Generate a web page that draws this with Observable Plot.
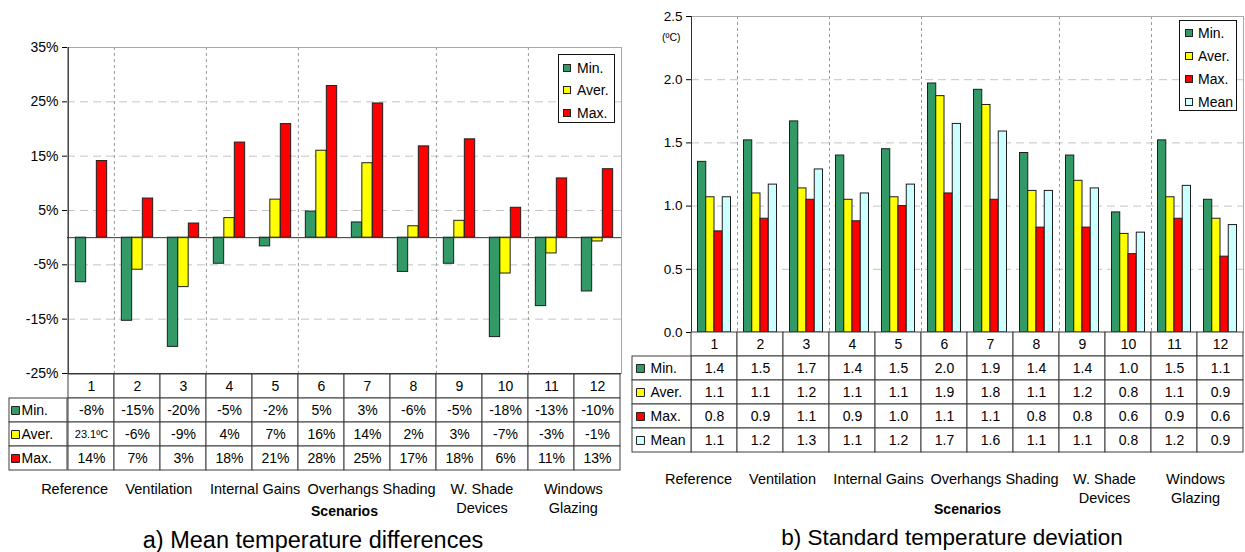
<!DOCTYPE html>
<html><head><meta charset="utf-8">
<script src="https://cdn.jsdelivr.net/npm/d3@7"></script>
<script src="https://cdn.jsdelivr.net/npm/@observablehq/plot@0.6"></script>
<style>
body{margin:0;background:#fff;font-family:"Liberation Sans",Arial,sans-serif;}
#root{position:relative;width:1245px;height:552px;overflow:hidden;background:#fff;}
.legend{position:absolute;border:1px solid #111;background:#fff;font-size:14px;color:#000;box-sizing:border-box;}
.legend .it{position:absolute;white-space:nowrap;line-height:16px;transform:translateY(-50%);}
.legend .sw{position:absolute;width:8px;height:8px;border:1px solid #222;box-sizing:border-box;transform:translateY(-50%);}
.title{position:absolute;color:#000;transform:translate(-50%,-50%);white-space:nowrap;}
</style></head><body><div id="root"></div>
<script>
// ---------- shared ----------
const categories = ["1","2","3","4","5","6","7","8","9","10","11","12"];
const groups = [
  {name:"Reference", first:1, last:1},
  {name:"Ventilation", first:2, last:3},
  {name:"Internal Gains", first:4, last:5},
  {name:"Overhangs Shading", first:6, last:8},
  {name:"W. Shade\nDevices", first:9, last:10},
  {name:"Windows\nGlazing", first:11, last:12}
];
const colors = {"Min.":"#339966","Aver.":"#ffff00","Max.":"#ff0000","Mean":"#ccffff"};

// ---------- panel a: mean temperature differences (%) ----------
const seriesA = ["Min.","Aver.","Max."];
const minA  = [-8.2,-15.3,-20.1,-4.8,-1.6,4.8,2.8,-6.3,-4.8,-18.3,-12.6,-9.9];
const averA = [null,-5.9,-9.1,3.6,7.0,16.0,13.7,2.1,3.1,-6.6,-2.9,-0.7];
const maxA  = [14.1,7.2,2.6,17.5,20.9,27.9,24.7,16.8,18.1,5.5,10.9,12.6];
const tableMinA  = ["-8%","-15%","-20%","-5%","-2%","5%","3%","-6%","-5%","-18%","-13%","-10%"];
const tableAverA = ["23.1ºC","-6%","-9%","4%","7%","16%","14%","2%","3%","-7%","-3%","-1%"];
const tableMaxA  = ["14%","7%","3%","18%","21%","28%","25%","17%","18%","6%","11%","13%"];
const yTicksA = [-25,-15,-5,5,15,25,35];
const gridA = [-15,-5,5,15,25];
const titleA = "a) Mean temperature differences";

// ---------- panel b: standard temperature deviation (ºC) ----------
const seriesB = ["Min.","Aver.","Max.","Mean"];
const minB  = [1.35,1.52,1.67,1.40,1.45,1.97,1.92,1.42,1.40,0.95,1.52,1.05];
const averB = [1.07,1.10,1.14,1.05,1.07,1.87,1.80,1.12,1.20,0.78,1.07,0.90];
const maxB  = [0.80,0.90,1.05,0.88,1.00,1.10,1.05,0.83,0.83,0.62,0.90,0.60];
const meanB = [1.07,1.17,1.29,1.10,1.17,1.65,1.59,1.12,1.14,0.79,1.16,0.85];
const tableMinB  = ["1.4","1.5","1.7","1.4","1.5","2.0","1.9","1.4","1.4","1.0","1.5","1.1"];
const tableAverB = ["1.1","1.1","1.2","1.1","1.1","1.9","1.8","1.1","1.2","0.8","1.1","0.9"];
const tableMaxB  = ["0.8","0.9","1.1","0.9","1.0","1.1","1.1","0.8","0.8","0.6","0.9","0.6"];
const tableMeanB = ["1.1","1.2","1.3","1.1","1.2","1.7","1.6","1.1","1.1","0.8","1.2","0.9"];
const yTicksB = [0,0.5,1,1.5,2,2.5];
const gridB = [0.5,1,1.5,2];
const titleB = "b) Standard temperature deviation";

// ---------- drawing ----------
const root = document.getElementById("root");
const baseStyle = "background:transparent;overflow:visible;font-family:'Liberation Sans',Arial,sans-serif;color:#000;";
function place(el, left, top) {
  el.style.position = "absolute"; el.style.left = left + "px"; el.style.top = top + "px";
  root.appendChild(el);
}
const groupStarts = groups.slice(1).map(g => String(g.first));
const labelNudge = [-16, -1, 3, 4, -1, -2];

function panel(c) {
  const n = categories.length;
  const bw = (c.width - c.mL - c.mR) / n;
  const pad = (bw - c.barW * c.series.length) / 2;
  const H = c.barBottom + 6;
  const barMarks = c.series.map((s, i) => Plot.barY(
    categories.map((cat, j) => ({cat, v: c.values[i][j]})).filter(d => d.v != null),
    {x: "cat", y: "v", fill: colors[s], stroke: "#1e1e1e", strokeWidth: 1,
     insetLeft: pad + i * c.barW, insetRight: bw - pad - (i + 1) * c.barW}));
  const bars = Plot.plot({
    width: c.width, height: H,
    marginLeft: c.mL, marginRight: c.mR, marginTop: c.barTop, marginBottom: H - c.barBottom,
    style: baseStyle + `font-size:${c.tickFont}px;`,
    x: {type: "band", domain: categories, padding: 0, axis: null},
    y: {domain: c.yDomain, ticks: c.yTicks, tickFormat: c.tickFmt, tickSize: 5, tickPadding: 4, label: null},
    marks: [
      Plot.ruleY(c.grid, {stroke: "#c4c4c4", strokeDasharray: "8,5"}),
      Plot.ruleX(groupStarts, {x: d => d, dx: -bw / 2, stroke: "#9a9a9a", strokeDasharray: "3,3"}),
      Plot.frame({stroke: "#a8a8a8"}),
      ...barMarks,
      Plot.ruleY([0], {stroke: "#333"}),
      Plot.ruleY([c.yDomain[0]], {stroke: "#333"}),
      Plot.ruleX([categories[0]], {x: d => d, dx: -bw / 2, stroke: "#333"}),
      ...(c.unit ? [Plot.text([c.unit], {text: d => d, frameAnchor: "top-left", dx: -11, dy: 17, textAnchor: "end", fontSize: 10.5})] : [])
    ]
  });
  place(bars, c.left, 0);

  // data table
  const rows = ["#", ...c.series];
  const cells = [];
  categories.forEach((cat, j) => {
    cells.push({cat, row: "#", t: cat});
    c.series.forEach((s, i) => cells.push({cat, row: s, t: c.tables[i][j]}));
  });
  const tH = c.tableBottom - c.tableTop;
  const table = Plot.plot({
    width: c.width, height: tH + 6, marginLeft: c.mL, marginRight: c.mR, marginTop: 3, marginBottom: 3,
    style: baseStyle,
    x: {type: "band", domain: categories, padding: 0, axis: null},
    y: {type: "band", domain: rows, padding: 0, axis: null},
    marks: [
      Plot.cell(cells, {x: "cat", y: "row", fill: "#fff", stroke: "#3c3c3c"}),
      Plot.text(cells, {x: "cat", y: "row", text: "t", fontSize: d => d.t.includes("ºC") ? 11 : 14, fill: "#000"})
    ]
  });
  place(table, c.left, c.tableTop - 3);

  // legend column of the table
  const legCol = Plot.plot({
    width: c.mL, height: tH + 6, marginLeft: c.legColLeft, marginRight: 0, marginTop: 3, marginBottom: 3,
    style: baseStyle,
    x: {type: "band", domain: ["lab"], padding: 0, axis: null},
    y: {type: "band", domain: rows, padding: 0, axis: null},
    color: {type: "identity"},
    marks: [
      Plot.cell(c.series, {x: () => "lab", y: d => d, fill: "#fff", stroke: "#3c3c3c"}),
      Plot.dot(c.series, {x: () => "lab", y: d => d, symbol: "square", r: 4.5, fill: d => colors[d], stroke: "#222", strokeWidth: 1, dx: c.swDx}),
      Plot.text(c.series, {x: () => "lab", y: d => d, text: d => d, textAnchor: "start", dx: c.txtDx, fontSize: 14, fill: "#000"})
    ]
  });
  place(legCol, c.left, c.tableTop - 3);

  // category group labels + axis title
  const labPlot = Plot.plot({
    width: c.width, height: 552 - c.labTop, marginLeft: c.mL, marginRight: c.mR, marginTop: 0, marginBottom: 0,
    style: baseStyle,
    x: {domain: [0.5, n + 0.5], axis: null},
    marks: [
      ...groups.map((g, k) => Plot.text([g], {x: d => (d.first + d.last) / 2, text: "name", frameAnchor: "top",
        lineAnchor: "top", dy: c.groupDy, dx: labelNudge[k], fontSize: 14.5, lineHeight: 1.31, fill: "#000"})),
      Plot.text(["Scenarios"], {text: d => d, frameAnchor: "top", dy: c.scenDy, fontWeight: "bold", fontSize: 14, fill: "#000"})
    ]
  });
  place(labPlot, c.left, c.labTop);

  // title
  const t = document.createElement("div");
  t.className = "title"; t.textContent = c.title;
  t.style.left = c.titleX + "px"; t.style.top = c.titleY + "px"; t.style.fontSize = c.titleFont + "px";
  root.appendChild(t);

  // legend box
  const lg = document.createElement("div");
  lg.className = "legend";
  Object.assign(lg.style, {left: c.lg.x + "px", top: c.lg.y + "px", width: c.lg.w + "px", height: c.lg.h + "px"});
  c.series.forEach((s, i) => {
    const cy = c.lg.first + i * c.lg.step;
    const sw = document.createElement("div");
    sw.className = "sw"; sw.style.left = c.lg.swX + "px"; sw.style.top = cy + "px"; sw.style.background = colors[s];
    const tx = document.createElement("div");
    tx.className = "it"; tx.style.left = c.lg.txX + "px"; tx.style.top = cy + "px"; tx.textContent = s;
    lg.appendChild(sw); lg.appendChild(tx);
  });
  root.appendChild(lg);
}

panel({
  left: 0, width: 630, mL: 67, mR: 9, barTop: 47, barBottom: 373,
  yDomain: [-25, 35], yTicks: yTicksA, tickFmt: d => d + "%", grid: gridA, tickFont: 14,
  series: seriesA, values: [minA, averA, maxA], tables: [tableMinA, tableAverA, tableMaxA], barW: 10.5,
  tableTop: 373, tableBottom: 470, legColLeft: 9, swDx: -23, txtDx: -17,
  labTop: 460, groupDy: 20, scenDy: 46,
  title: titleA, titleX: 313, titleY: 540, titleFont: 23.5,
  lg: {x: 558, y: 54, w: 57, h: 69, first: 12.5, step: 22.6, swX: 4, txX: 18}
});
panel({
  left: 620, width: 625, mL: 71, mR: 2, barTop: 16, barBottom: 332,
  yDomain: [0, 2.5], yTicks: yTicksB, tickFmt: d3.format(".1f"), grid: gridB, tickFont: 13.5, unit: "(ºC)",
  series: seriesB, values: [minB, averB, maxB, meanB], tables: [tableMinB, tableAverB, tableMaxB, tableMeanB], barW: 8.25,
  tableTop: 332, tableBottom: 452.3, legColLeft: 12, swDx: -21.5, txtDx: -11.5,
  labTop: 460, groupDy: 10, scenDy: 44,
  title: titleB, titleX: 952, titleY: 538, titleFont: 22.5,
  lg: {x: 1179, y: 20, w: 58, h: 91, first: 12.3, step: 22.8, swX: 4.5, txX: 18}
});
</script>
</body></html>
